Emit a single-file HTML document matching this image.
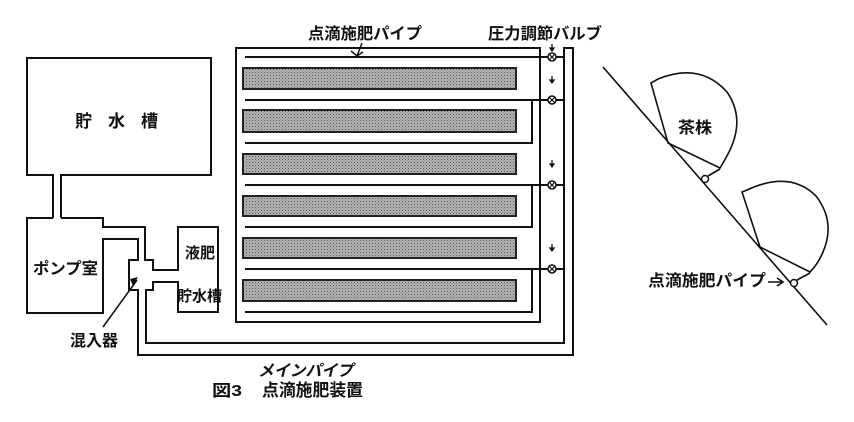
<!DOCTYPE html>
<html><head><meta charset="utf-8"><style>
html,body{margin:0;padding:0;background:#fff;}
svg{display:block;}
text{font-family:"Liberation Sans","Noto Sans CJK JP",sans-serif;font-weight:bold;fill:#111;}
</style></head><body>
<svg width="854" height="422" viewBox="0 0 854 422" xmlns="http://www.w3.org/2000/svg">
<defs>
<pattern id="dots" width="3" height="3" patternUnits="userSpaceOnUse">
<rect width="3" height="3" fill="#b4b4b4"/>
<rect width="1" height="1" fill="#555"/>
<rect x="1.5" y="1.5" width="1" height="1" fill="#777"/>
</pattern>
</defs>
<g fill="none" stroke="#111" stroke-width="2" stroke-linejoin="miter">
<path d="M53,218 L53,175 L27,175 L27,58 L211,58 L211,175 L61,175 L61,218"/>
<path d="M53,218 L27,218 L27,313 L103,313 L103,239 L138,239 L138,260 L129,260 L129,290 L138,290 L138,355 L573,355 L573,48 L564,48 L564,343 L146,343 L146,290 L153,290 L153,282 L178,282 L178,312 L218,312 L218,227 L178,227 L178,270 L153,270 L153,260 L145,260 L145,227 L103,227 L103,218 L61,218"/>
<rect x="236" y="48" width="304" height="274"/>
<path d="M245,57 L548,57"/>
<path d="M245,100 L548,100"/>
<path d="M245,143 L532,143 L532,100"/>
<path d="M245,185 L548,185"/>
<path d="M245,227 L532,227 L532,185"/>
<path d="M245,269 L548,269"/>
<path d="M245,312 L532,312 L532,269"/>
<path d="M556,57 L564,57 M556,100 L564,100 M556,185 L564,185 M556,269 L564,269"/>
</g>
<g fill="url(#dots)" stroke="#222" stroke-width="2">
<rect x="243" y="68" width="273" height="21"/>
<rect x="243" y="110" width="273" height="22"/>
<rect x="243" y="154" width="273" height="20"/>
<rect x="243" y="196" width="273" height="20"/>
<rect x="243" y="238" width="273" height="20"/>
<rect x="243" y="280" width="273" height="21"/>
</g>
<g fill="#fff" stroke="#111" stroke-width="1.5">
<circle cx="552" cy="57" r="4"/><circle cx="552" cy="100" r="4"/><circle cx="552" cy="185" r="4"/><circle cx="552" cy="269" r="4"/>
</g>
<g stroke="#111" stroke-width="1.2">
<path d="M549,54 L555,60 M555,54 L549,60"/>
<path d="M549,97 L555,103 M555,97 L549,103"/>
<path d="M549,182 L555,188 M555,182 L549,188"/>
<path d="M549,266 L555,272 M555,266 L549,272"/>
</g>
<g stroke="#111" stroke-width="1.3" fill="#111">
<path d="M552,44 L552,49"/><path d="M550,48 L554,48 L552,51 Z"/>
<path d="M552,76 L552,81"/><path d="M550,80 L554,80 L552,83 Z"/>
<path d="M552,160 L552,165"/><path d="M550,164 L554,164 L552,167 Z"/>
<path d="M552,244 L552,249"/><path d="M550,248 L554,248 L552,251 Z"/>
</g>
<path d="M362,43 L357,56 M351,51 L357,56 L363,52" fill="none" stroke="#111" stroke-width="1.5"/>
<path d="M103,327 L137,280" fill="none" stroke="#111" stroke-width="1.6"/>
<path d="M130,279 L138,277 L133,286 Z" fill="#111"/>
<g fill="none" stroke="#111" stroke-width="1.6">
<path d="M603,67 L827,325"/>
<path d="M651,83 L658,79 Q700,62 727,92 Q745,118 730,150 Q725,160 720,168 L668,143 Z"/>
<path d="M742,192 L747,190 Q790,170 816,196 Q836,222 823,252 Q818,264 810,272 L760,247 Z"/>
<path d="M708,176 L720,169"/>
<path d="M797,280 L810,273"/>
</g>
<g fill="#fff" stroke="#111" stroke-width="1.5">
<circle cx="705" cy="179" r="3.5"/>
<circle cx="794" cy="283" r="3.5"/>
</g>
<text x="308" y="39" font-size="16" textLength="114" lengthAdjust="spacingAndGlyphs">点滴施肥パイプ</text>
<text x="488" y="39" font-size="16" textLength="114" lengthAdjust="spacingAndGlyphs">圧力調節バルブ</text>
<text x="75" y="127" font-size="17" textLength="83" lengthAdjust="spacing">貯水槽</text>
<text x="33" y="274" font-size="16" textLength="65" lengthAdjust="spacingAndGlyphs">ポンプ室</text>
<text x="185" y="258" font-size="15" textLength="30" lengthAdjust="spacingAndGlyphs">液肥</text>
<text x="177" y="301" font-size="15" textLength="45" lengthAdjust="spacingAndGlyphs">貯水槽</text>
<text x="70" y="346" font-size="16" textLength="48" lengthAdjust="spacingAndGlyphs">混入器</text>
<text x="258" y="376" font-size="16" textLength="95" lengthAdjust="spacingAndGlyphs" font-style="italic">メインパイプ</text>
<text x="212" y="396" font-size="16" textLength="30" lengthAdjust="spacingAndGlyphs">図3</text>
<text x="262" y="396" font-size="17" textLength="101" lengthAdjust="spacingAndGlyphs">点滴施肥装置</text>
<text x="678" y="133" font-size="16" textLength="34" lengthAdjust="spacingAndGlyphs">茶株</text>
<text x="648" y="286" font-size="16" textLength="118" lengthAdjust="spacingAndGlyphs">点滴施肥パイプ</text>
<path d="M768,282 L782,282 M777,278 L783,282 L777,286" fill="none" stroke="#111" stroke-width="1.6"/>
</svg>
</body></html>
